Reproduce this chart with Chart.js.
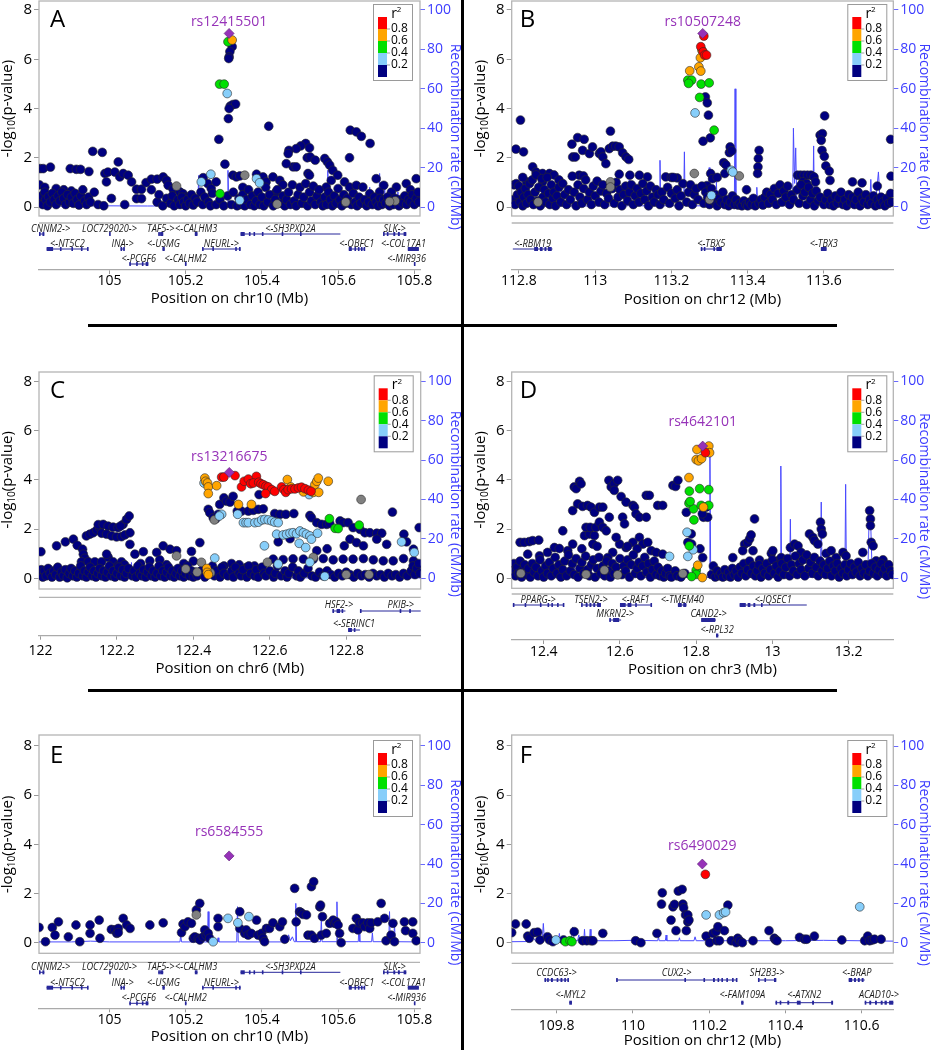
<!DOCTYPE html>
<html><head><meta charset="utf-8"><title>Regional association plots</title>
<script src="https://cdn.jsdelivr.net/npm/chart.js@4.4.1/dist/chart.umd.min.js"></script>
<style>
html,body{margin:0;padding:0;background:#fff}
#wrap{position:relative;width:932px;height:1050px;overflow:hidden;background:#fff}
canvas{position:absolute}
.rule{position:absolute;background:#000;z-index:3}
</style></head><body><div id="wrap">
<canvas id="cA"></canvas><canvas id="cB"></canvas><canvas id="cC"></canvas>
<canvas id="cD"></canvas><canvas id="cE"></canvas><canvas id="cF"></canvas>
<div class="rule" style="left:461px;top:0;width:3px;height:1050px"></div>
<div class="rule" style="left:88px;top:324px;width:749px;height:3px"></div>
<div class="rule" style="left:88px;top:689px;width:749px;height:3px"></div>
</div>
<script>
// ---------------- shared ticks ----------------
const Y_TICKS = [0, 2, 4, 6, 8];
const RECOMB_TICKS = [0, 20, 40, 60, 80, 100];
const R2_LABELS = ['0.8', '0.6', '0.4', '0.2'];

// ---------------- Panel A (chr10) ----------------
const A_RANGE = [104.815, 105.815];
const A_XTICKS = [105, 105.2, 105.4, 105.6, 105.8];
const A_LEAD = [[105.314, 7.05]];
const A_LEAD_NAME = 'rs12415501';
const A_RED = [];
const A_ORANGE = [[105.322, 6.78]];
const A_GREEN = [[105.311, 6.71], [105.289, 4.99], [105.301, 4.99], [105.29, 0.54]];
const A_LBLUE = [[105.309, 4.61], [105.241, 1.02], [105.266, 1.33], [105.342, 0.27], [105.386, 1.15], [105.394, 0.98]];
const A_GRAY = [[105.176, 0.85], [105.355, 1.29], [105.62, 0.2], [105.75, 0.25], [105.735, 0.22], [105.44, 0.12]];
const A_NAVY = [
 [105.322,6.51],[105.316,6.31],[105.314,6.1],[105.313,6.03],[105.317,4.1],[105.324,4.16],[105.331,4.18],[105.314,4.0],[105.312,3.59],[105.287,2.75],[105.303,1.74],[105.418,3.28],
 [105.632,3.12],[105.648,3.05],[105.661,2.87],[105.684,2.58],[105.63,2.0],
 [105.515,2.58],[105.502,2.48],[105.49,2.37],[105.471,2.3],[105.469,2.17],[105.482,1.63],[105.49,1.63],[105.464,1.76],[105.519,2.0],[105.525,2.4],[105.527,2.03],[105.54,1.9],[105.521,1.36],[105.525,1.29],[105.565,1.97],[105.572,1.83],[105.578,1.7],[105.586,1.49],[105.582,1.08],[105.569,0.81],
 [105.599,1.29],[105.617,1.02],[105.63,0.81],[105.648,0.88],[105.665,0.81],[105.683,0.54],[105.709,0.61],[105.753,0.81],[105.779,0.95],[105.805,1.15],[105.7,1.15],[105.72,0.88],[105.74,0.6],[105.79,0.7],
 [104.818,1.56],[104.826,1.56],[104.845,1.62],[104.897,1.56],[104.913,1.53],[104.924,1.53],[104.946,1.44],[104.956,2.26],[104.981,2.22],[104.988,1.36],[104.992,1.02],[104.996,1.42],[105.014,1.42],[105.023,1.83],[105.027,1.22],[105.036,1.36],[105.049,1.29],[105.058,1.02],[105.071,0.72],[105.084,0.72],[105.071,0.34],[105.084,0.34],[105.096,0.99],[105.11,1.13],[105.125,1.13],[105.141,1.22],[105.15,1.08],[105.154,0.88],[105.167,0.72],[105.185,0.61],[105.193,0.54],[105.202,0.4],[105.246,1.19],[105.258,0.95],[105.267,0.75],[105.28,1.02],
 [105.324,1.29],[105.333,1.22],[105.342,1.26],[105.386,1.33],[105.403,1.22],[105.411,1.02],[105.429,1.22],[105.447,1.08],[105.455,0.9],[105.437,0.6],[105.35,0.8],
 [104.816,0.9],[104.83,0.8],[104.86,0.75],[104.88,0.7],[104.9,0.65],
 [104.82,0.2],[104.822,0.45],[104.825,0.1],[104.83,0.6],[104.833,0.3],[104.837,0.05],[104.84,0.42],[104.845,0.2],[104.85,0.55],[104.855,0.3],[104.86,0.1],[104.865,0.45],[104.87,0.25],[104.875,0.6],[104.88,0.35],[104.885,0.1],[104.89,0.5],[104.895,0.2],[104.9,0.4],[104.905,0.15],[104.91,0.55],[104.915,0.3],[104.92,0.08],[104.925,0.45],[104.93,0.7],[104.935,0.25],[104.94,0.1],[104.945,0.4],[104.95,0.2],[104.96,0.6],[104.97,0.1],[104.985,0.05],[105.005,0.35],[105.04,0.1],
 [105.11,0.7],[105.125,0.2],[105.13,0.5],[105.14,0.05],[105.15,0.35],[105.16,0.15],[105.165,0.45],[105.17,0.05],[105.18,0.3],[105.185,0.1],[105.19,0.4],[105.195,0.2],[105.2,0.05],[105.205,0.3],[105.21,0.15],[105.215,0.5],[105.22,0.08],[105.225,0.35],[105.23,0.2],[105.24,0.6],[105.245,0.1],[105.25,0.4],[105.26,0.2],[105.265,0.05],[105.27,0.55],[105.28,0.1],[105.29,0.3],[105.3,0.05],[105.31,0.45],[105.32,0.1],[105.325,0.6],[105.335,0.05],[105.34,0.35],[105.345,0.1],[105.35,0.5],[105.355,0.05],[105.36,0.3],[105.365,0.7],[105.37,0.1],[105.375,0.45],[105.38,0.05],[105.385,0.25],[105.39,0.6],[105.395,0.1],[105.4,0.4],[105.405,0.05],[105.41,0.8],[105.415,0.2],[105.42,0.5],[105.43,0.05],[105.435,0.3],[105.44,0.7],[105.45,0.15],[105.455,0.45],[105.46,0.05],[105.465,0.3],[105.47,0.6],[105.475,0.1],[105.48,0.9],[105.485,0.25],[105.49,0.05],[105.495,0.5],[105.5,0.8],[105.505,0.15],[105.51,0.4],[105.515,0.95],[105.52,0.05],[105.525,0.6],[105.53,0.25],[105.535,0.85],[105.54,0.1],[105.545,0.45],[105.55,0.7],[105.555,0.2],[105.56,0.05],[105.565,0.4],[105.57,0.1],[105.575,0.6],[105.58,0.3],[105.585,0.05],[105.59,0.45],[105.595,0.15],[105.6,0.75],[105.605,0.3],[105.61,0.05],[105.615,0.5],[105.62,0.15],[105.625,0.35],[105.635,0.1],[105.64,0.55],[105.645,0.2],[105.65,0.05],[105.655,0.4],[105.66,0.15],[105.67,0.3],[105.675,0.05],[105.68,0.2],[105.69,0.1],[105.695,0.4],[105.7,0.2],[105.705,0.05],[105.71,0.35],[105.715,0.1],[105.72,0.3],[105.725,0.15],[105.73,0.4],[105.735,0.05],[105.74,0.25],[105.745,0.1],[105.75,0.35],[105.755,0.2],[105.76,0.05],[105.765,0.3],[105.77,0.15],[105.775,0.45],[105.78,0.1],[105.785,0.3],[105.79,0.2],[105.795,0.5],[105.8,0.1],[105.805,0.35],[105.81,0.6],[105.812,0.2]
];
const A_RECOMB = [[104.815,0.4],[104.9,0.5],[104.98,0.6],[104.984,2.2],[104.988,0.6],[105.1,0.5],[105.2,0.6],[105.232,0.8],[105.234,16],[105.236,0.8],[105.3,0.6],[105.309,0.8],[105.311,18.6],[105.313,0.8],[105.353,0.8],[105.355,4],[105.357,0.8],[105.44,0.6],[105.449,1],[105.451,6.8],[105.453,1],[105.532,0.8],[105.534,12.7],[105.536,0.8],[105.571,0.8],[105.573,18.6],[105.575,0.8],[105.628,0.8],[105.63,9.3],[105.632,0.8],[105.681,0.8],[105.683,10],[105.685,0.8],[105.707,0.8],[105.709,17],[105.711,0.8],[105.72,0.8],[105.722,12.7],[105.724,0.8],[105.755,0.8],[105.757,7.6],[105.759,0.8],[105.815,0.6]];
const A_GENES = [
 ['CNNM2->',104.80,104.829,0,[[104.815,104.818],[104.824,104.829]]],
 ['LOC729020->',104.999,105.001,0,[[104.999,105.001]]],
 ['TAF5->',105.128,105.141,0,[[105.128,105.131],[105.133,105.141]]],
 ['<-CALHM3',105.224,105.231,0,[[105.224,105.231]]],
 ['<-SH3PXD2A',105.344,105.606,0,[[105.344,105.355],[105.366,105.368],[105.378,105.38],[105.4,105.402],[105.452,105.454],[105.5,105.502]]],
 ['SLK->',105.718,105.779,0,[[105.718,105.72],[105.728,105.73],[105.745,105.75],[105.757,105.762],[105.772,105.779]]],
 ['<-NT5C2',104.835,104.944,1,[[104.835,104.852],[104.87,104.872],[104.9,104.902],[104.925,104.928],[104.941,104.944]]],
 ['INA->',105.029,105.04,1,[[105.029,105.031],[105.036,105.04]]],
 ['<-USMG',105.139,105.145,1,[[105.139,105.145]]],
 ['NEURL->',105.243,105.344,1,[[105.243,105.245],[105.27,105.272],[105.33,105.333],[105.34,105.344]]],
 ['<-OBFC1',105.628,105.67,1,[[105.628,105.636],[105.643,105.646],[105.652,105.655],[105.66,105.663],[105.667,105.67]]],
 ['<-COL17A1',105.783,105.812,1,[[105.783,105.812]]],
 ['<-PCGF6',105.052,105.102,2,[[105.052,105.055],[105.07,105.073],[105.085,105.087],[105.095,105.102]]],
 ['<-CALHM2',105.198,105.202,2,[[105.198,105.202]]],
 ['<-MIR936',105.799,105.8,2,[[105.799,105.8]]]
];

// ---------------- Panel B (chr12) ----------------
const B_RANGE = [112.781, 113.782];
const B_XTICKS = [112.8, 113, 113.2, 113.4, 113.6];
const B_LEAD = [[113.282, 7.05]];
const B_LEAD_NAME = 'rs10507248';
const B_RED = [[113.285,6.94],[113.277,6.51],[113.283,6.3],[113.287,6.17],[113.292,6.17]];
const B_ORANGE = [[113.28,6.37],[113.276,6.06],[113.272,5.69],[113.248,5.53],[113.277,5.52]];
const B_GREEN = [[113.243,5.15],[113.253,5.15],[113.245,5.02],[113.278,4.99],[113.299,5.04],[113.274,4.45],[113.312,3.12]];
const B_LBLUE = [[113.262,3.82],[113.357,1.49],[113.361,1.42],[113.305,0.47]];
const B_GRAY = [[113.04,1.02],[113.04,0.81],[113.26,1.36],[113.378,1.26],[112.85,0.2],[113.3,0.3]];
const B_NAVY = [
 [113.289,4.47],[113.294,4.23],[113.297,3.73],[113.302,2.81],[113.283,2.67],
 [112.792,2.35],[112.804,3.53],[112.812,2.24],
 [112.939,2.55],[112.954,2.82],[112.971,2.75],[112.941,2.03],[112.948,2.03],[112.967,2.3],[112.985,2.17],[112.993,2.44],[113.011,2.17],[113.015,2.24],[113.02,2.03],[113.04,3.08],[113.037,2.37],[113.046,2.47],[113.054,2.47],[113.063,2.44],[113.072,2.2],[113.081,2.03],[113.088,1.93],[113.028,1.76],[112.958,1.29],[112.969,1.26],[113.091,1.29],[113.063,1.33],
 [112.836,1.63],[112.845,1.42],[112.862,1.36],[112.88,1.36],[112.892,1.3],[112.862,1.02],[112.82,1.02],[112.81,1.2],[112.905,1.1],
 [113.137,1.22],[113.116,1.29],[113.185,1.22],[113.2,1.2],[113.215,1.18],[113.303,1.36],[113.308,1.15],[113.293,0.87],[113.32,1.2],
 [113.337,1.8],[113.343,1.71],[113.34,1.36],[113.352,2.21],[113.354,2.44],[113.358,2.28],[113.428,1.97],[113.43,2.3],[113.427,1.63],[113.426,1.36],[113.397,0.7],
 [113.602,3.7],[113.59,2.92],[113.596,2.98],[113.593,2.71],[113.595,2.3],[113.601,2.06],[113.605,1.67],[113.614,1.46],[113.616,1.08],[113.775,2.75],[113.776,1.25],
 [113.531,1.29],[113.539,1.29],[113.548,1.29],[113.557,1.29],[113.566,1.29],[113.574,1.22],[113.578,1.02],[113.545,1.02],[113.555,0.95],[113.675,1.02],[113.7,0.98],[113.74,0.85],
 [112.785,0.3],[112.787,0.9],[112.79,0.1],[112.793,0.95],[112.796,0.5],[112.8,0.85],[112.803,0.2],[112.806,0.6],[112.81,0.05],[112.813,0.4],[112.817,0.75],[112.82,0.15],[112.824,0.5],[112.828,0.95],[112.831,0.3],[112.835,1.1],[112.838,0.1],[112.842,0.6],[112.845,1.3],[112.849,0.25],[112.852,0.8],[112.856,0.05],[112.86,1.15],[112.863,0.4],[112.867,0.7],[112.87,0.2],[112.874,1.2],[112.878,0.55],[112.881,0.1],[112.885,0.9],[112.889,0.35],[112.892,0.6],[112.896,0.05],[112.9,0.45],[112.905,0.8],[112.91,0.2],[112.915,0.95],[112.92,0.5],[112.925,0.1],[112.93,0.7],[112.935,0.3],[112.94,1.25],[112.945,0.6],[112.95,0.05],[112.955,0.9],[112.96,0.4],[112.965,0.15],[112.97,0.75],[112.975,1.1],[112.98,0.3],[112.985,0.6],[112.99,0.1],[112.995,0.85],[113.0,0.45],[113.005,1.05],[113.01,0.2],[113.015,0.65],[113.02,0.9],[113.025,0.1],[113.03,0.55],[113.035,0.35],[113.045,0.75],[113.05,0.15],[113.055,1.0],[113.06,0.4],[113.065,0.7],[113.07,0.05],[113.075,0.5],[113.08,0.85],[113.085,0.25],[113.09,0.6],[113.095,0.9],[113.1,0.1],[113.105,0.45],[113.11,0.75],[113.115,0.2],[113.12,0.55],[113.125,0.95],[113.13,0.3],[113.135,0.65],[113.14,0.05],[113.145,0.85],[113.15,0.4],[113.155,0.2],[113.16,0.7],[113.165,0.5],[113.17,0.1],[113.175,0.6],[113.18,0.3],[113.19,0.8],[113.195,0.15],[113.2,0.55],[113.205,1.2],[113.21,0.35],[113.215,0.7],[113.22,0.05],[113.225,0.45],[113.23,0.95],[113.24,0.2],[113.245,0.6],[113.25,0.9],[113.255,0.1],[113.26,0.5],[113.265,0.75],[113.27,0.3],[113.28,0.85],[113.285,0.15],[113.29,0.6],[113.295,0.4],[113.3,0.1],[113.305,0.75],[113.31,0.25],[113.315,0.5],[113.32,0.05],[113.325,0.35],[113.33,0.2],[113.335,0.6],[113.34,0.1],[113.345,0.3],[113.35,0.05],[113.355,0.2],[113.36,0.45],[113.365,0.1],[113.37,0.3],[113.375,0.08],[113.38,0.15],[113.385,0.05],[113.39,0.25],[113.395,0.1],[113.4,0.05],[113.405,0.2],[113.41,0.1],[113.415,0.35],[113.42,0.05],[113.43,0.15],[113.435,0.3],[113.44,0.08],[113.445,0.4],[113.45,0.6],[113.455,0.15],[113.46,0.5],[113.465,0.3],[113.47,0.75],[113.475,0.1],[113.48,0.55],[113.485,0.9],[113.49,0.2],[113.495,0.65],[113.5,0.4],[113.505,0.85],[113.51,0.1],[113.515,0.5],[113.52,0.3],[113.53,0.7],[113.535,0.15],[113.54,0.9],[113.545,0.45],[113.55,0.6],[113.555,0.1],[113.56,0.8],[113.565,0.3],[113.57,0.55],[113.575,0.05],[113.58,0.65],[113.585,0.25],[113.59,0.4],[113.6,0.1],[113.605,0.3],[113.61,0.55],[113.615,0.1],[113.62,0.3],[113.625,0.05],[113.63,0.45],[113.635,0.15],[113.64,0.35],[113.645,0.6],[113.65,0.1],[113.655,0.3],[113.66,0.05],[113.665,0.5],[113.67,0.2],[113.675,0.4],[113.68,0.1],[113.685,0.3],[113.69,0.6],[113.695,0.05],[113.7,0.35],[113.705,0.2],[113.71,0.5],[113.715,0.1],[113.72,0.3],[113.725,0.15],[113.73,0.45],[113.735,0.05],[113.74,0.3],[113.745,0.1],[113.75,0.4],[113.755,0.2],[113.76,0.05],[113.765,0.35],[113.77,0.15],[113.775,0.55],[113.778,0.2]
];
const B_RECOMB = [[112.781,0.5],[112.86,0.5],[112.862,6],[112.864,0.5],[112.937,0.5],[112.939,6.5],[112.941,0.5],[113.087,0.6],[113.089,13.6],[113.091,0.6],[113.168,0.6],[113.17,23.7],[113.172,0.6],[113.232,0.6],[113.234,28],[113.236,0.6],[113.297,0.6],[113.299,20],[113.301,0.6],[113.316,0.6],[113.318,12.7],[113.32,0.6],[113.365,0.6],[113.367,60],[113.369,0.6],[113.422,0.6],[113.424,10],[113.426,0.6],[113.518,0.6],[113.52,40],[113.523,12],[113.526,30],[113.529,0.8],[113.571,0.8],[113.573,31],[113.575,0.8],[113.62,1],[113.626,7],[113.632,1.2],[113.72,1],[113.723,14],[113.726,1],[113.735,1],[113.743,17.8],[113.748,1],[113.782,0.8]];
const B_GENES = [
 ['<-RBM19',112.784,112.888,1,[[112.84,112.85],[112.855,112.862],[112.867,112.872],[112.876,112.886]]],
 ['<-TBX5',113.277,113.332,1,[[113.277,113.279],[113.285,113.287],[113.31,113.312],[113.318,113.332]]],
 ['<-TBX3',113.592,113.607,1,[[113.592,113.607]]]
];

// ---------------- Panel C (chr6) ----------------
const C_RANGE = [121.996, 122.995];
const C_XTICKS = [122, 122.2, 122.4, 122.6, 122.8];
const C_LEAD = [[122.494, 4.3]];
const C_LEAD_NAME = 'rs13216675';
const C_RED = [[122.474,4.11],[122.48,4.11],[122.509,4.17],[122.526,3.71],[122.533,3.94],[122.544,4.03],[122.55,3.84],[122.565,4.14],[122.557,3.87],[122.571,3.9],[122.577,3.84],[122.583,3.8],[122.59,3.74],[122.596,3.71],[122.605,3.6],[122.613,3.53],[122.589,3.44],[122.631,3.71],[122.637,3.6],[122.642,3.49],[122.648,3.6],[122.657,3.63],[122.666,3.63],[122.675,3.67],[122.683,3.7],[122.692,3.64],[122.701,3.58],[122.708,3.53]];
const C_ORANGE = [[122.43,4.07],[122.432,3.94],[122.437,3.87],[122.439,3.71],[122.439,3.44],[122.461,3.76],[122.518,3.0],[122.552,3.0],[122.646,4.01],[122.655,3.71],[122.688,3.51],[122.714,3.49],[122.718,3.8],[122.723,3.94],[122.727,4.07],[122.728,3.49],[122.753,3.94],[122.435,0.4],[122.436,0.24],[122.439,0.15]];
const C_GREEN = [[122.756,2.42],[122.771,2.03],[122.779,2.02],[122.834,2.16]];
const C_LBLUE = [[122.428,3.87],[122.474,2.6],[122.468,2.53],[122.516,2.6],[122.531,2.26],[122.538,2.26],[122.544,2.26],[122.561,2.26],[122.57,2.28],[122.579,2.37],[122.587,2.39],[122.596,2.37],[122.605,2.33],[122.613,2.28],[122.622,2.26],[122.618,1.79],[122.635,1.76],[122.644,1.79],[122.653,1.83],[122.661,1.85],[122.67,1.81],[122.679,1.92],[122.688,1.85],[122.696,1.79],[122.705,1.72],[122.709,1.59],[122.677,1.42],[122.694,1.25],[122.725,1.83],[122.703,3.4],[122.586,1.32],[122.945,1.48],[122.978,1.05],[122.456,0.82],[122.744,0.08],[122.622,0.58],[122.705,0.65]];
const C_GRAY = [[122.356,0.91],[122.455,2.37],[122.421,0.65],[122.445,0.22],[122.594,0.65],[122.839,3.2],[122.714,0.85],[122.38,0.38],[122.41,0.25],[122.8,0.15],[122.86,0.15]];
const C_NAVY = [
 [122.001,1.08],[122.042,1.32],[122.065,1.48],[122.086,1.59],[122.096,1.34],[122.11,1.18],[122.112,0.98],[122.116,0.81],[122.12,1.72],[122.129,1.79],[122.138,1.85],[122.147,1.96],[122.155,2.06],
 [122.151,2.18],[122.164,2.19],[122.177,2.12],[122.19,2.08],[122.203,2.06],[122.216,2.19],[122.225,2.39],[122.232,2.53],[122.209,2.12],
 [122.16,1.83],[122.173,1.79],[122.186,1.72],[122.199,1.68],[122.212,1.69],[122.221,1.76],[122.234,1.85],[122.234,1.38],
 [122.107,0.67],[122.125,0.67],[122.142,0.67],[122.16,0.67],[122.177,0.85],[122.19,0.67],[122.203,0.51],[122.212,0.67],[122.173,0.98],[122.22,0.55],
 [122.247,0.98],[122.269,1.08],[122.304,1.05],[122.321,1.32],[122.339,1.18],[122.356,1.12],[122.395,1.09],[122.417,1.45],[122.286,0.71],[122.312,0.75],[122.262,0.6],[122.33,0.55],[122.375,0.6],[122.4,0.7],
 [122.439,2.8],[122.443,2.66],[122.452,2.46],[122.459,2.42],[122.465,2.6],[122.469,3.0],[122.48,3.27],[122.487,3.13],[122.496,3.09],[122.504,3.33],[122.515,2.73],[122.526,2.73],[122.544,2.73],[122.557,2.76],[122.57,2.8],[122.583,2.82],[122.572,3.4],[122.613,2.63],[122.627,2.6],[122.642,2.6],[122.663,2.63],[122.705,2.55],[122.709,2.46],[122.723,2.26],[122.736,2.19],[122.749,2.19],[122.757,2.23],[122.784,2.33],[122.792,2.26],[122.805,2.26],[122.818,2.06],[122.836,1.99],[122.849,1.85],[122.862,1.85],[122.88,1.83],[122.893,1.83],[122.921,2.69],[122.951,1.79],[122.958,1.48],[122.976,1.18],[122.991,2.06],
 [122.622,1.48],[122.653,1.61],[122.81,1.59],[122.827,1.45],[122.845,1.32],[122.88,1.59],[122.906,1.38],[122.795,1.32],[122.723,1.12],[122.75,1.2],
 [122.609,0.78],[122.635,0.76],[122.661,0.79],[122.688,0.78],[122.714,0.78],[122.74,0.8],[122.766,0.75],[122.792,0.78],[122.818,0.78],[122.845,0.8],[122.871,0.75],[122.897,0.71],[122.923,0.71],[122.95,0.8],[122.976,0.71],[122.5,0.6],[122.52,0.55],[122.54,0.45],[122.48,0.5],[122.56,0.5],
 [121.998,0.15],[122.002,0.35],[122.006,0.05],[122.01,0.3],[122.015,0.1],[122.02,0.4],[122.025,0.2],[122.03,0.05],[122.035,0.3],[122.04,0.15],[122.045,0.45],[122.05,0.05],[122.055,0.25],[122.06,0.1],[122.065,0.35],[122.07,0.02],[122.075,0.2],[122.08,0.4],[122.085,0.1],[122.09,0.3],[122.095,0.05],[122.1,0.2],[122.105,0.5],[122.11,0.1],[122.115,0.3],[122.12,0.05],[122.125,0.25],[122.13,0.45],[122.135,0.1],[122.14,0.3],[122.145,0.05],[122.15,0.2],[122.155,0.4],[122.16,0.1],[122.165,0.3],[122.17,0.05],[122.175,0.25],[122.18,0.5],[122.185,0.1],[122.19,0.3],[122.195,0.05],[122.2,0.2],[122.205,0.45],[122.21,0.1],[122.215,0.35],[122.22,0.05],[122.225,0.2],[122.23,0.4],[122.24,0.1],[122.245,0.3],[122.25,0.05],[122.255,0.5],[122.26,0.2],[122.265,0.1],[122.27,0.35],[122.275,0.05],[122.28,0.25],[122.285,0.45],[122.29,0.1],[122.295,0.3],[122.3,0.05],[122.305,0.2],[122.31,0.5],[122.315,0.1],[122.32,0.3],[122.325,0.05],[122.33,0.25],[122.335,0.45],[122.34,0.1],[122.345,0.3],[122.35,0.05],[122.355,0.2],[122.36,0.4],[122.365,0.1],[122.37,0.3],[122.375,0.05],[122.38,0.2],[122.385,0.5],[122.39,0.1],[122.395,0.3],[122.4,0.05],[122.405,0.25],[122.41,0.1],[122.42,0.3],[122.43,0.05],[122.44,0.2],[122.45,0.5],[122.455,0.1],[122.46,0.3],[122.47,0.05],[122.475,0.45],[122.48,0.2],[122.49,0.1],[122.5,0.3],[122.505,0.05],[122.51,0.45],[122.52,0.2],[122.525,0.1],[122.53,0.35],[122.54,0.05],[122.545,0.5],[122.55,0.2],[122.56,0.1],[122.565,0.35],[122.57,0.05],[122.58,0.45],[122.585,0.2],[122.59,0.1],[122.6,0.3],[122.61,0.05],[122.615,0.2],[122.62,0.5],[122.63,0.1],[122.64,0.3],[122.645,0.05],[122.65,0.2],[122.66,0.45],[122.67,0.1],[122.675,0.3],[122.68,0.05],[122.69,0.2],[122.7,0.4],[122.71,0.1],[122.72,0.05],[122.73,0.25],[122.74,0.1],[122.75,0.3],[122.76,0.15],[122.77,0.05],[122.78,0.2],[122.79,0.1],[122.8,0.25],[122.81,0.15],[122.82,0.05],[122.83,0.2],[122.84,0.1],[122.85,0.15],[122.86,0.05],[122.87,0.2],[122.88,0.1],[122.89,0.15],[122.9,0.05],[122.91,0.2],[122.92,0.1],[122.93,0.15],[122.94,0.05],[122.95,0.2],[122.96,0.1],[122.97,0.3],[122.975,0.5],[122.98,0.15],[122.985,0.4],[122.99,0.6],[122.993,0.2]
];
const C_RECOMB = [[121.996,0.2],[122.236,0.3],[122.238,8],[122.24,0.3],[122.29,0.3],[122.292,3],[122.294,0.3],[122.413,0.3],[122.415,4],[122.417,0.3],[122.46,0.3],[122.462,3],[122.464,0.3],[122.6,0.2],[122.995,0.2]];
const C_GENES = [
 ['HSF2->',122.764,122.798,0,[[122.764,122.767],[122.775,122.784],[122.788,122.792]]],
 ['PKIB->',122.836,123.05,0,[[122.836,122.838],[122.94,122.942],[122.965,122.967]]],
 ['<-SERINC1',122.805,122.836,1,[[122.805,122.815],[122.82,122.822]]]
];

// ---------------- Panel D (chr3) ----------------
const D_RANGE = [12.316, 13.317];
const D_XTICKS = [12.4, 12.6, 12.8, 13, 13.2];
const D_LEAD = [[12.817, 5.37]];
const D_LEAD_NAME = 'rs4642101';
const D_RED = [[12.824, 5.1]];
const D_ORANGE = [[12.802,5.23],[12.833,5.37],[12.8,4.82],[12.806,4.77],[12.814,4.86],[12.835,5.1],[12.781,4.09],[12.819,2.89],[12.804,0.53],[12.816,0.03]];
const D_GREEN = [[12.782,3.54],[12.781,3.05],[12.809,3.64],[12.793,2.82],[12.794,2.37],[12.813,2.96],[12.833,2.96],[12.833,3.6],[12.782,1.32],[12.8,0.33],[12.8,0.16],[12.788,0.07],[12.784,3.12]];
const D_LBLUE = [[12.776,1.87],[12.778,0.89],[12.792,1.16],[12.73,0.89]];
const D_GRAY = [[12.559,0.33],[12.594,0.14],[12.765,0.19],[12.511,0.16],[12.34,0.2]];
const D_NAVY = [
 [12.819,2.48],[12.826,2.89],[12.83,2.48],[12.816,2.62],[12.774,2.68],[12.778,1.46],[12.787,1.8],[12.788,1.39],[12.817,0.84],[12.81,1.2],
 [12.338,1.46],[12.349,1.46],[12.362,1.49],[12.371,1.53],[12.387,1.55],[12.358,0.98],[12.389,0.91],[12.41,1.05],[12.428,1.25],[12.441,1.21],[12.45,1.93],[12.463,1.12],[12.476,1.39],[12.48,3.71],[12.485,3.64],[12.494,3.94],[12.498,3.84],[12.489,3.02],[12.476,2.75],[12.502,2.92],[12.515,2.96],[12.524,2.89],[12.533,2.68],[12.546,2.89],[12.555,2.89],[12.507,1.73],[12.52,1.8],[12.533,1.73],[12.511,2.07],[12.522,2.07],[12.537,2.07],[12.546,2.28],[12.555,2.07],[12.564,1.93],[12.529,1.39],[12.572,2.48],[12.571,3.98],[12.577,3.71],[12.585,3.84],[12.594,3.98],[12.585,3.57],[12.603,3.32],[12.616,3.09],[12.607,2.48],[12.634,2.96],[12.638,2.89],[12.642,2.62],[12.651,2.48],[12.669,2.48],[12.612,2.21],[12.669,3.37],[12.677,3.37],[12.699,2.96],[12.712,2.96],[12.739,3.77],[12.746,3.73],[12.752,3.98],[12.651,1.66],[12.634,1.46],[12.616,1.25],[12.599,1.39],[12.66,1.39],[12.673,1.46],[12.682,1.12],[12.695,1.05],[12.712,0.98],[12.59,1.66],[12.581,1.05],[12.568,0.84],[12.5,1.2],[12.54,1.3],[12.62,1.3],[12.645,1.2],
 [12.896,0.84],[12.927,1.39],[12.935,1.46],[12.94,1.6],[12.944,1.76],[12.953,2.41],[12.949,1.12],[12.922,1.12],[12.966,0.74],[12.997,1.01],[13.001,1.12],[13.014,0.71],[13.023,0.84],[13.047,1.25],[13.058,1.39],[13.067,1.32],[13.075,1.05],[13.097,1.8],[13.106,1.66],[13.11,1.53],[13.119,1.39],[13.126,2.28],[13.128,2.0],[13.131,1.8],[13.141,1.01],[13.154,1.12],[13.167,0.84],[13.185,1.05],[13.193,0.91],[13.255,2.75],[13.257,2.41],[13.257,2.14],[13.259,1.46],[13.264,1.32],[13.237,1.05],[13.272,0.71],[13.29,0.75],
 [12.318,0.3],[12.322,0.6],[12.326,0.1],[12.33,0.45],[12.334,0.2],[12.338,0.7],[12.342,0.05],[12.346,0.35],[12.35,0.55],[12.355,0.15],[12.36,0.4],[12.365,0.05],[12.37,0.6],[12.375,0.25],[12.38,0.45],[12.385,0.1],[12.39,0.75],[12.395,0.3],[12.4,0.05],[12.405,0.5],[12.41,0.2],[12.415,0.65],[12.42,0.1],[12.425,0.4],[12.43,0.85],[12.435,0.2],[12.44,0.55],[12.445,0.05],[12.45,0.35],[12.455,0.7],[12.46,0.1],[12.465,0.95],[12.47,0.3],[12.475,0.6],[12.48,0.15],[12.485,0.8],[12.49,0.05],[12.495,0.4],[12.5,0.65],[12.505,0.2],[12.51,0.9],[12.515,0.35],[12.52,0.1],[12.525,0.55],[12.53,0.75],[12.535,0.05],[12.54,0.4],[12.545,0.85],[12.55,0.2],[12.555,0.5],[12.56,0.1],[12.565,0.7],[12.57,0.3],[12.575,0.05],[12.58,0.6],[12.585,0.2],[12.59,0.45],[12.6,0.8],[12.605,0.15],[12.61,0.5],[12.615,0.3],[12.62,0.75],[12.625,0.05],[12.63,0.55],[12.635,0.95],[12.64,0.2],[12.645,0.4],[12.65,0.65],[12.655,0.1],[12.66,0.5],[12.665,0.85],[12.67,0.25],[12.675,0.6],[12.68,0.05],[12.685,0.35],[12.69,0.7],[12.695,0.15],[12.7,0.45],[12.705,0.1],[12.71,0.3],[12.715,0.05],[12.72,0.2],[12.725,0.4],[12.73,0.1],[12.735,0.05],[12.745,0.3],[12.75,0.1],[12.76,0.05],[12.77,0.2],[12.84,0.15],[12.845,0.5],[12.85,0.05],[12.855,0.3],[12.86,0.1],[12.865,0.2],[12.87,0.05],[12.875,0.35],[12.88,0.1],[12.885,0.25],[12.89,0.05],[12.895,0.4],[12.9,0.15],[12.905,0.3],[12.91,0.05],[12.915,0.45],[12.92,0.2],[12.925,0.6],[12.93,0.1],[12.935,0.35],[12.94,0.7],[12.945,0.2],[12.95,0.5],[12.955,0.1],[12.96,0.3],[12.965,0.55],[12.97,0.05],[12.975,0.4],[12.98,0.2],[12.985,0.6],[12.99,0.1],[12.995,0.35],[13.0,0.75],[13.005,0.2],[13.01,0.5],[13.015,0.05],[13.02,0.3],[13.025,0.6],[13.03,0.15],[13.035,0.45],[13.04,0.8],[13.045,0.1],[13.05,0.55],[13.055,0.3],[13.06,0.9],[13.065,0.15],[13.07,0.6],[13.075,0.35],[13.08,0.75],[13.085,0.1],[13.09,0.95],[13.095,0.4],[13.1,0.65],[13.105,0.2],[13.11,0.85],[13.115,0.45],[13.12,0.1],[13.125,0.7],[13.13,0.3],[13.135,0.55],[13.14,0.15],[13.145,0.4],[13.15,0.7],[13.155,0.1],[13.16,0.5],[13.165,0.3],[13.17,0.6],[13.175,0.05],[13.18,0.4],[13.185,0.2],[13.19,0.55],[13.195,0.1],[13.2,0.35],[13.205,0.6],[13.21,0.15],[13.215,0.45],[13.22,0.25],[13.225,0.65],[13.23,0.1],[13.235,0.4],[13.24,0.2],[13.245,0.55],[13.25,0.1],[13.255,0.3],[13.26,0.6],[13.265,0.2],[13.27,0.45],[13.275,0.1],[13.28,0.35],[13.285,0.6],[13.29,0.2],[13.295,0.4],[13.3,0.1],[13.305,0.55],[13.31,0.3],[13.315,0.15]
];
const D_RECOMB = [[12.316,0.3],[12.479,0.3],[12.481,7],[12.483,0.3],[12.7,0.4],[12.72,2],[12.74,0.4],[12.834,0.4],[12.836,63],[12.838,0.4],[13.02,0.4],[13.022,57],[13.024,0.4],[13.045,0.4],[13.047,30],[13.049,0.4],[13.126,0.4],[13.128,38.7],[13.13,0.4],[13.19,0.4],[13.192,47.7],[13.194,0.4],[13.25,0.4],[13.253,26],[13.258,26],[13.262,0.4],[13.317,0.3]];
const D_GENES = [
 ['PPARG->',12.319,12.452,0,[[12.319,12.321],[12.35,12.352],[12.39,12.392],[12.41,12.412],[12.42,12.422],[12.435,12.437],[12.45,12.452]]],
 ['TSEN2->',12.498,12.55,0,[[12.498,12.5],[12.51,12.515],[12.52,12.525],[12.53,12.535],[12.54,12.55]]],
 ['<-RAF1',12.6,12.682,0,[[12.6,12.615],[12.62,12.63],[12.64,12.642],[12.68,12.682]]],
 ['<-TMEM40',12.752,12.775,0,[[12.752,12.762],[12.766,12.774]]],
 ['<-IQSEC1',12.914,13.09,0,[[12.914,12.93],[12.935,12.942],[12.95,12.955],[12.97,12.972]]],
 ['MKRN2->',12.572,12.603,1,[[12.572,12.575],[12.582,12.598]]],
 ['CAND2->',12.813,12.852,1,[[12.813,12.85]]],
 ['<-RPL32',12.852,12.858,2,[[12.852,12.858]]]
];

// ---------------- Panel E (chr10) ----------------
const E_RANGE = [104.815, 105.815];
const E_XTICKS = [105, 105.2, 105.4, 105.6, 105.8];
const E_LEAD = [[105.314, 3.53]];
const E_LEAD_NAME = 'rs6584555';
const E_RED = [], E_ORANGE = [], E_GREEN = [];
const E_LBLUE = [[105.311,0.99],[105.337,0.81],[105.366,1.06],[105.272,0.04]];
const E_GRAY = [[105.228,1.13]];
const E_NAVY = [[104.815,0.62],[104.832,0.04],[104.85,0.62],[104.857,0.31],[104.866,0.85],[104.892,0.24],[104.912,0.72],[104.922,0.04],[104.949,0.72],[104.949,0.38],[104.973,0.92],[104.975,0.18],[105.005,0.54],[105.014,0.52],[105.019,0.38],[105.023,0.58],[105.023,0.41],[105.036,0.99],[105.045,0.72],[105.054,0.58],[105.106,0.72],[105.141,0.81],[105.189,0.41],[105.193,0.76],[105.198,0.65],[105.206,0.85],[105.215,0.79],[105.22,0.18],[105.224,0.24],[105.228,1.33],[105.237,1.6],[105.233,0.18],[105.237,0.11],[105.246,0.24],[105.25,0.52],[105.254,0.31],[105.259,0.38],[105.263,0.18],[105.285,0.65],[105.285,0.99],[105.342,1.26],[105.342,0.58],[105.355,0.38],[105.359,0.52],[105.364,0.31],[105.372,0.38],[105.386,0.92],[105.39,0.31],[105.399,0.38],[105.403,0.18],[105.407,0.04],[105.412,0.58],[105.42,0.58],[105.429,0.81],[105.447,0.65],[105.454,0.85],[105.46,0.14],[105.486,2.21],[105.49,0.85],[105.499,1.26],[105.503,1.22],[105.508,1.15],[105.517,1.13],[105.521,0.31],[105.53,0.31],[105.538,0.18],[105.53,2.28],[105.536,2.48],[105.552,1.46],[105.554,1.53],[105.559,1.06],[105.556,0.31],[105.569,0.38],[105.578,0.79],[105.587,0.92],[105.591,0.79],[105.595,0.85],[105.6,0.72],[105.604,0.38],[105.608,0.0],[105.639,0.58],[105.648,0.99],[105.652,0.52],[105.656,0.81],[105.665,0.81],[105.67,0.65],[105.678,0.81],[105.683,0.58],[105.687,0.81],[105.704,0.85],[105.713,1.6],[105.722,0.99],[105.726,0.08],[105.739,0.31],[105.744,0.79],[105.748,0.04],[105.774,0.85],[105.777,0.49],[105.796,0.85],[105.796,0.38],[105.805,0.08]];
const E_RECOMB = [[104.815,0.4],[104.9,0.4],[104.95,0.8],[105.0,0.4],[105.185,0.4],[105.187,4],[105.189,0.4],[105.257,0.4],[105.259,15.8],[105.261,0.4],[105.283,0.4],[105.285,2.5],[105.287,0.4],[105.334,0.4],[105.336,18.3],[105.338,0.4],[105.465,0.4],[105.47,4],[105.475,1],[105.48,3],[105.485,0.5],[105.487,0.5],[105.489,20],[105.491,0.5],[105.554,0.5],[105.556,12.4],[105.558,0.5],[105.595,0.5],[105.597,20.8],[105.599,0.5],[105.653,0.5],[105.655,10.7],[105.657,0.5],[105.688,0.5],[105.69,5],[105.692,0.5],[105.733,0.5],[105.735,15.8],[105.737,0.5],[105.746,0.5],[105.748,9.8],[105.75,0.5],[105.815,0.4]];
const E_GENES = A_GENES;

// ---------------- Panel F (chr12) ----------------
const F_RANGE = [109.682, 110.683];
const F_XTICKS = [109.8, 110, 110.2, 110.4, 110.6];
const F_LEAD = [[110.182, 3.2]];
const F_LEAD_NAME = 'rs6490029';
const F_RED = [[110.19, 2.78]];
const F_ORANGE = [];
const F_GREEN = [[109.823,0.04],[109.835,0.08],[109.84,0.04]];
const F_LBLUE = [[110.192,1.13],[110.227,1.13],[110.238,1.22],[110.243,1.25],[110.595,1.46],[109.798,0.11]];
const F_GRAY = [];
const F_NAVY = [[109.682,0.41],[109.692,0.76],[109.72,0.76],[109.724,0.27],[109.728,0.18],[109.741,0.41],[109.75,0.43],[109.756,0.11],[109.776,0.24],[109.781,0.11],[109.79,0.04],[109.818,0.11],[109.846,0.45],[109.868,0.08],[109.879,0.08],[109.89,0.08],[109.895,0.08],[109.921,0.38],[110.007,0.08],[110.021,0.0],[110.063,0.38],[110.077,2.03],[110.075,1.57],[110.1,0.92],[110.105,1.46],[110.109,1.56],[110.113,0.49],[110.119,2.1],[110.129,2.17],[110.131,1.57],[110.133,1.42],[110.138,1.13],[110.144,1.13],[110.144,0.85],[110.147,0.92],[110.14,0.49],[110.192,0.27],[110.201,0.0],[110.21,0.38],[110.218,0.45],[110.223,0.65],[110.22,0.08],[110.227,0.08],[110.24,0.49],[110.249,1.53],[110.258,0.08],[110.271,0.0],[110.275,0.18],[110.28,0.08],[110.287,0.0],[110.315,0.08],[110.357,0.49],[110.371,0.18],[110.374,0.11],[110.378,0.08],[110.437,0.22],[110.45,0.14],[110.456,0.14],[110.476,0.27],[110.548,0.11],[110.608,0.08],[110.616,0.27],[110.621,0.08],[110.628,0.11],[110.634,0.14],[110.651,0.14]];
const F_RECOMB = [[109.682,0.5],[109.73,0.6],[109.737,3],[109.745,0.8],[109.762,0.8],[109.765,9.8],[109.768,1],[109.772,5],[109.776,1],[109.804,1],[109.807,4.7],[109.81,1],[109.838,1],[109.842,8],[109.846,1],[109.855,1],[109.858,4],[109.861,1],[109.871,1],[109.873,6.8],[109.875,1],[109.886,1],[109.888,6.8],[109.89,1],[109.95,1],[110.0,1.2],[110.065,1],[110.067,3],[110.069,1],[110.085,1],[110.087,3.9],[110.089,1],[110.12,1],[110.122,2.5],[110.124,1],[110.16,1],[110.163,3],[110.166,1],[110.26,1],[110.265,2.2],[110.27,1],[110.28,1],[110.285,2.2],[110.29,1],[110.4,1],[110.5,1.2],[110.683,0.8]];
const F_GENES = [
 ['CCDC63->',109.768,109.831,0,[[109.768,109.77],[109.775,109.777],[109.785,109.79],[109.8,109.802],[109.81,109.815],[109.82,109.822],[109.828,109.831]]],
 ['CUX2->',109.956,110.273,0,[[109.956,109.958],[110.135,110.137],[110.185,110.187],[110.21,110.215],[110.222,110.226],[110.232,110.236],[110.245,110.248],[110.26,110.262],[110.27,110.273]]],
 ['SH2B3->',110.328,110.376,0,[[110.328,110.331],[110.345,110.347],[110.37,110.376]]],
 ['<-BRAP',110.566,110.608,0,[[110.566,110.575],[110.58,110.585],[110.59,110.595],[110.6,110.605]]],
 ['<-MYL2',109.833,109.84,1,[[109.833,109.84]]],
 ['<-FAM109A',110.284,110.29,1,[[110.284,110.29]]],
 ['<-ATXN2',110.374,110.525,1,[[110.374,110.378],[110.385,110.387],[110.405,110.41],[110.43,110.44],[110.47,110.475],[110.52,110.525]]],
 ['ACAD10->',110.608,110.683,1,[[110.608,110.61],[110.62,110.625],[110.635,110.64],[110.65,110.655],[110.66,110.666],[110.672,110.683]]]
];

// ---------------- styles & layout ----------------
const FONT = "'Open Sans', 'Noto Sans', sans-serif";
const STYLE = {
  navy:'#000080', gray:'#808080', lblue:'#87cefa', green:'#00e000', orange:'#ffa500', red:'#ff0000', lead:'#9632b8',
  pointBorder:'#2a2a2a', recomb:'#4a4aff', blue:'#3c3cff', frame:'#b4b4b4', gene:'#26269a', narrow:0.8
};
const LAYOUT = {
 A:{l:0,  t:0,   w:463, h:318, frame:{l:39,   r:420,   t:1, b:216},   y8:10,   y0:207,   axisY:270,   geneTop:223,   rows:[[229,234],[244,249],[259,264]], tickY:281,   titleY:299,   labelY:21.7, letterDx:11, legendDx:8},
 B:{l:466,t:0,   w:466, h:318, frame:{l:45.7, r:427.3, t:1, b:216},   y8:10,   y0:207,   axisY:269.5, geneTop:223,   rows:[[229,234],[244,249],[259,264]], tickY:281,   titleY:299.3, labelY:22.3, letterDx:8,  legendDx:7},
 C:{l:0,  t:368, w:463, h:318, frame:{l:39,   r:420.7, t:4, b:221},   y8:13.3, y0:210.3, axisY:267.7, geneTop:229.3, rows:[[237,243],[256,262]],            tickY:282.7, titleY:300.3, labelY:89,   letterDx:11, legendDx:8},
 D:{l:466,t:368, w:466, h:318, frame:{l:45.7, r:427.3, t:4, b:220.3}, y8:13.3, y0:210.3, axisY:272,   geneTop:226,   rows:[[232,237],[246,252],[262,267.5]], tickY:283.7, titleY:301.3, labelY:53.7, letterDx:8,  legendDx:7},
 E:{l:0,  t:733, w:463, h:317, frame:{l:39,   r:420,   t:2, b:220.3}, y8:13,   y0:209.7, axisY:275.3, geneTop:229.3, rows:[[233.7,239.3],[249.3,254.7],[264.3,270.3]], tickY:287, titleY:304, labelY:98.7, letterDx:11, legendDx:8},
 F:{l:466,t:733, w:466, h:317, frame:{l:45.7, r:427.3, t:2, b:220},   y8:13,   y0:209.7, axisY:276.3, geneTop:230.3, rows:[[239.3,247],[262,269.7]],        tickY:293, titleY:308, labelY:113,  letterDx:8,  legendDx:7}
};

const PANELS = [
 {id:'A', chr:'chr10', range:A_RANGE, xticks:A_XTICKS, lead:A_LEAD, leadName:A_LEAD_NAME, navy:A_NAVY, gray:A_GRAY, lblue:A_LBLUE, green:A_GREEN, orange:A_ORANGE, red:A_RED, recomb:A_RECOMB, genes:A_GENES},
 {id:'B', chr:'chr12', range:B_RANGE, xticks:B_XTICKS, lead:B_LEAD, leadName:B_LEAD_NAME, navy:B_NAVY, gray:B_GRAY, lblue:B_LBLUE, green:B_GREEN, orange:B_ORANGE, red:B_RED, recomb:B_RECOMB, genes:B_GENES},
 {id:'C', chr:'chr6',  range:C_RANGE, xticks:C_XTICKS, lead:C_LEAD, leadName:C_LEAD_NAME, navy:C_NAVY, gray:C_GRAY, lblue:C_LBLUE, green:C_GREEN, orange:C_ORANGE, red:C_RED, recomb:C_RECOMB, genes:C_GENES},
 {id:'D', chr:'chr3',  range:D_RANGE, xticks:D_XTICKS, lead:D_LEAD, leadName:D_LEAD_NAME, navy:D_NAVY, gray:D_GRAY, lblue:D_LBLUE, green:D_GREEN, orange:D_ORANGE, red:D_RED, recomb:D_RECOMB, genes:D_GENES},
 {id:'E', chr:'chr10', range:E_RANGE, xticks:E_XTICKS, lead:E_LEAD, leadName:E_LEAD_NAME, navy:E_NAVY, gray:E_GRAY, lblue:E_LBLUE, green:E_GREEN, orange:E_ORANGE, red:E_RED, recomb:E_RECOMB, genes:E_GENES},
 {id:'F', chr:'chr12', range:F_RANGE, xticks:F_XTICKS, lead:F_LEAD, leadName:F_LEAD_NAME, navy:F_NAVY, gray:F_GRAY, lblue:F_LBLUE, green:F_GREEN, orange:F_ORANGE, red:F_RED, recomb:F_RECOMB, genes:F_GENES}
];

Chart.defaults.font.family = FONT;
Chart.defaults.color = '#000';

function pts(a){ return a.map(p => ({x:p[0], y:p[1]})); }

function drawLeftTitle(ctx, x, yc){
  ctx.save();
  ctx.translate(x, yc); ctx.rotate(-Math.PI/2);
  ctx.fillStyle = '#000'; ctx.textBaseline = 'middle'; ctx.textAlign = 'left';
  const big = '15px ' + FONT, small = '10px ' + FONT;
  ctx.font = big; const w1 = ctx.measureText('-log').width, w3 = ctx.measureText('(p-value)').width;
  ctx.font = small; const w2 = ctx.measureText('10').width;
  let sx = -(w1+w2+w3)/2;
  ctx.font = big; ctx.fillText('-log', sx, 0); sx += w1;
  ctx.font = small; ctx.fillText('10', sx, 4); sx += w2;
  ctx.font = big; ctx.fillText('(p-value)', sx, 0);
  ctx.restore();
}

// narrow (horizontally condensed) italic label, like the reference's condensed gene font
function narrowText(ctx, text, cx, cy, k){
  ctx.save();
  ctx.translate(cx, cy); ctx.scale(k, 1);
  ctx.fillText(text, 0, 0);
  ctx.restore();
}

function makePlugin(P, L){
  return {
    id:'locus'+P.id,
    beforeDatasetsDraw(chart){
      const ctx = chart.ctx, xs = chart.scales.x;
      const l = xs.getPixelForValue(P.range[0]), r = xs.getPixelForValue(P.range[1]);
      ctx.save();
      ctx.strokeStyle = STYLE.frame; ctx.lineWidth = 1.3;
      ctx.strokeRect(l, L.frame.t, r - l, L.frame.b - L.frame.t);
      ctx.beginPath(); ctx.moveTo(l, L.geneTop); ctx.lineTo(r, L.geneTop); ctx.stroke();
      ctx.restore();
    },
    afterDatasetsDraw(chart){
      const ctx = chart.ctx, xs = chart.scales.x;
      const l = xs.getPixelForValue(P.range[0]), r = xs.getPixelForValue(P.range[1]);
      ctx.save();
      // panel letter
      ctx.fillStyle = '#000'; ctx.font = '24px ' + FONT; ctx.textAlign = 'left'; ctx.textBaseline = 'alphabetic';
      ctx.fillText(P.id, l + L.letterDx, L.y8 + 17);
      // lead SNP name
      ctx.fillStyle = STYLE.lead; ctx.font = '14px ' + FONT; ctx.textAlign = 'center'; ctx.textBaseline = 'middle';
      ctx.fillText(P.leadName, xs.getPixelForValue(P.lead[0][0]), L.labelY);
      // r2 legend
      const bw = 39, bh = 76, bx = r - L.legendDx - bw, by = L.y8 - 6;
      ctx.fillStyle = '#fff'; ctx.fillRect(bx, by, bw, bh);
      ctx.strokeStyle = '#9a9a9a'; ctx.lineWidth = 1; ctx.strokeRect(bx + 0.5, by + 0.5, bw, bh);
      ctx.fillStyle = '#000'; ctx.font = '14px ' + FONT; ctx.textAlign = 'center';
      ctx.fillText('r', bx + 21, by + 10);
      ctx.font = '8px ' + FONT; ctx.fillText('2', bx + 26, by + 6);
      const cols = [STYLE.red, STYLE.orange, STYLE.green, STYLE.lblue, STYLE.navy];
      cols.forEach((c, i) => { ctx.fillStyle = c; ctx.fillRect(bx + 5, by + 13 + 12*i, 9, 12); });
      ctx.strokeStyle = '#777'; ctx.lineWidth = 0.7;
      ctx.font = '12px ' + FONT; ctx.textAlign = 'left'; ctx.fillStyle = '#000';
      R2_LABELS.forEach((t, k) => {
        const yy = by + 13 + 12*(k+1);
        ctx.beginPath(); ctx.moveTo(bx + 14, yy); ctx.lineTo(bx + 17, yy); ctx.stroke();
        ctx.fillText(t, bx + 18, yy);
      });
      // left axis title
      drawLeftTitle(ctx, L.frame.l - 31, (L.y0 + L.y8)/2);
      // gene track
      ctx.font = 'italic 11.5px ' + FONT; ctx.textAlign = 'center'; ctx.textBaseline = 'middle';
      for (const g of P.genes){
        const [name, s, e, row, exons] = g;
        const [ly, gy] = L.rows[row];
        const p0 = Math.max(xs.getPixelForValue(s), l), p1 = Math.min(xs.getPixelForValue(e), r);
        ctx.strokeStyle = STYLE.gene; ctx.lineWidth = 1;
        ctx.beginPath(); ctx.moveTo(p0, gy); ctx.lineTo(Math.max(p1, p0 + 1), gy); ctx.stroke();
        ctx.fillStyle = STYLE.gene;
        for (const [a, b] of exons){
          const pa = xs.getPixelForValue(a), pb = xs.getPixelForValue(b);
          if (pb < l || pa > r) continue;
          ctx.fillRect(Math.max(pa, l), gy - 2, Math.max(pb - pa, 1.6), 4);
        }
        const w = ctx.measureText(name).width * STYLE.narrow;
        let cx = (xs.getPixelForValue(s) + xs.getPixelForValue(e))/2;
        cx = Math.max(cx, l - 8 + w/2); cx = Math.min(cx, r + 6 - w/2);
        ctx.fillStyle = '#1a1a1a';
        narrowText(ctx, name, cx, ly, STYLE.narrow);
      }
      ctx.restore();
    }
  };
}

function scatterSet(label, arr, color, order){
  return {type:'scatter', label, data:pts(arr), backgroundColor:color, borderColor:STYLE.pointBorder, borderWidth:0.6, pointRadius:4.4, pointHoverRadius:4.4, order};
}

const charts = [];
for (const P of PANELS){
  const L = LAYOUT[P.id];
  const cv = document.getElementById('c' + P.id);
  cv.width = L.w; cv.height = L.h;
  cv.style.left = L.l + 'px'; cv.style.top = L.t + 'px';
  cv.style.width = L.w + 'px'; cv.style.height = L.h + 'px';
  const ppu = (L.y0 - L.y8)/8;
  const ymax = (L.y0 - L.frame.t)/ppu, ymin = -(L.axisY - L.y0)/ppu;
  const tickPad = L.tickY - L.axisY - 4 - 8.4;
  const titlePad = Math.max(0, L.h - 9 - L.titleY);
  const datasets = [
    {type:'line', label:'Recombination rate (cM/Mb)', data:pts(P.recomb), yAxisID:'y2', borderColor:STYLE.recomb, borderWidth:1, pointRadius:0, pointHoverRadius:0, tension:0, fill:false, order:10},
    scatterSet('r² < 0.2', P.navy, STYLE.navy, 6),
    scatterSet('r² unknown', P.gray, STYLE.gray, 5),
    scatterSet('0.2 ≤ r² < 0.4', P.lblue, STYLE.lblue, 4),
    scatterSet('0.4 ≤ r² < 0.6', P.green, STYLE.green, 3),
    scatterSet('0.6 ≤ r² < 0.8', P.orange, STYLE.orange, 2),
    scatterSet('r² ≥ 0.8', P.red, STYLE.red, 1),
    {type:'scatter', label:P.leadName, data:pts(P.lead), backgroundColor:STYLE.lead, borderColor:'#5b1f75', borderWidth:0.6, pointStyle:'rectRot', pointRadius:5, pointHoverRadius:5, order:0}
  ];
  const chart = new Chart(cv, {
    type:'scatter',
    data:{datasets},
    options:{
      responsive:false, maintainAspectRatio:false, animation:false, devicePixelRatio:1, events:[],
      layout:{padding:{left:0, right:0, top:L.frame.t, bottom:0}, autoPadding:false},
      plugins:{legend:{display:false}, tooltip:{enabled:false}},
      scales:{
        x:{type:'linear', position:'bottom', min:P.range[0], max:P.range[1],
           afterBuildTicks:s => { s.ticks = P.xticks.map(v => ({value:v})); },
           afterFit:s => { s.height = L.h - L.axisY; },
           grid:{display:true, drawOnChartArea:false, drawTicks:true, tickLength:4, color:'#999', lineWidth:1},
           border:{display:true, color:'#aaa', width:1.3},
           ticks:{autoSkip:false, maxRotation:0, minRotation:0, padding:tickPad, color:'#000', font:{size:14}, callback:v => String(Math.round(v*10)/10)},
           title:{display:true, text:'Position on ' + P.chr + ' (Mb)', color:'#000', font:{size:15}, padding:{top:0, bottom:titlePad}}
        },
        y:{type:'linear', position:'left', min:ymin, max:ymax,
           afterBuildTicks:s => { s.ticks = Y_TICKS.map(v => ({value:v})); },
           afterFit:s => { s.width = L.frame.l; },
           grid:{display:true, drawOnChartArea:false, drawTicks:true, tickLength:5, color:'#999'},
           border:{display:false},
           ticks:{padding:2, color:'#000', font:{size:15, lineHeight:0.2}, callback:v => String(v)}
        },
        y2:{type:'linear', position:'right', min:ymin*12.5, max:ymax*12.5,
           afterBuildTicks:s => { s.ticks = RECOMB_TICKS.map(v => ({value:v})); },
           afterFit:s => { s.width = L.w - L.frame.r; },
           grid:{display:true, drawOnChartArea:false, drawTicks:true, tickLength:5, color:'#6a6aff'},
           border:{display:false},
           ticks:{padding:2, color:STYLE.blue, font:{size:14, lineHeight:0.2}, callback:v => String(v)},
           title:{display:true, text:'Recombination rate (cM/Mb)', color:STYLE.blue, font:{size:14}, padding:{top:0, bottom:0}}
        }
      }
    },
    plugins:[makePlugin(P, L)]
  });
  // align the library scales to the reference frame
  for (let k = 0; k < 2; k++){
    const ca = chart.chartArea;
    const mn = -(ca.bottom - L.y0)/ppu, mx = (L.y0 - ca.top)/ppu;
    const pxmb = (L.frame.r - L.frame.l)/(P.range[1] - P.range[0]);
    const s = chart.options.scales;
    s.x.min = P.range[0] - (L.frame.l - ca.left)/pxmb;
    s.x.max = P.range[1] + (ca.right - L.frame.r)/pxmb;
    s.y.min = mn; s.y.max = mx; s.y2.min = mn*12.5; s.y2.max = mx*12.5;
    chart.update('none');
  }
  charts.push(chart);
}
</script></body></html>
